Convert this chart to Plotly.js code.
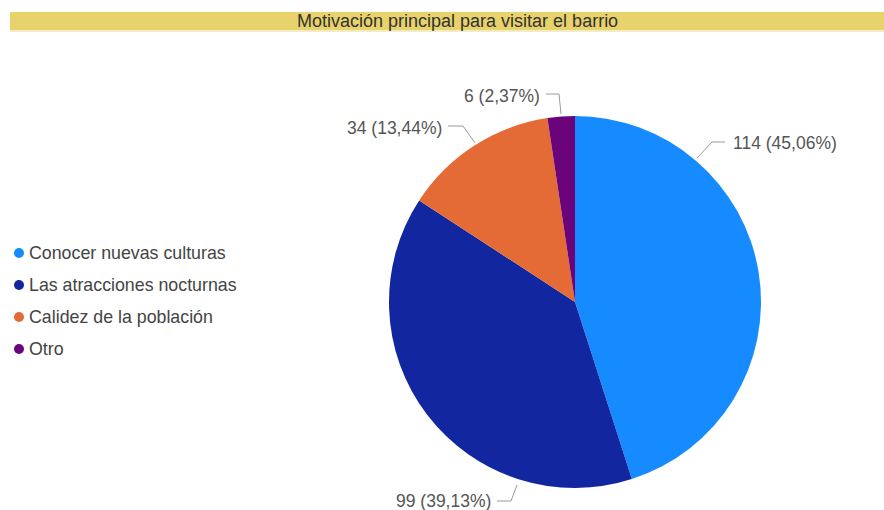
<!DOCTYPE html>
<html>
<head>
<meta charset="utf-8">
<script src="https://cdn.plot.ly/plotly-3.0.1.min.js"></script>
<style>html,body{margin:0;padding:0;background:#fff}#chart{width:884px;height:510px}</style>
</head>
<body>
<div id="chart"></div>
<script>
const categories = ["Conocer nuevas culturas", "Las atracciones nocturnas", "Calidez de la población", "Otro"];
const values = [114, 99, 34, 6];
const colors = ["#168BFF", "#1226A0", "#E46B36", "#6B047A"];
const titleText = "Motivación principal para visitar el barrio";

// label leader-line layout (pixel positions, style only)
const labelLayout = [
  {pts: [[697,158],[712,142],[725,142]], tx: 731, ty: 143, anchor: "left"},
  {pts: [[517,485],[511,501],[497,501]], tx: 493, ty: 501, anchor: "right"},
  {pts: [[475,143],[463,126],[448,126]], tx: 444, ty: 128, anchor: "right"},
  {pts: [[561,114],[559,94],[546,94]], tx: 542, ty: 96, anchor: "right"}
];

const W = 884, H = 510;
const px = x => x / W;
const py = y => 1 - y / H;
const total = values.reduce((a, b) => a + b, 0);
const fmt = v => v + " (" + (v / total * 100).toFixed(2).replace(".", ",") + "%)";
const FONT = "Liberation Sans, Arial, sans-serif";

const pie = {
  type: "pie",
  values: values,
  labels: categories,
  sort: false,
  direction: "clockwise",
  rotation: 0,
  textinfo: "none",
  hoverinfo: "label+value+percent",
  marker: {colors: colors, line: {width: 0}},
  showlegend: false,
  domain: {x: [px(389), px(761)], y: [py(488), py(116)]}
};

// legend drawn as scatter on hidden axes: y = item index
const legendMarkers = {
  type: "scatter",
  mode: "markers",
  x: categories.map(() => 0),
  y: categories.map((c, i) => i),
  marker: {color: colors, size: 10, symbol: "circle"},
  hoverinfo: "skip",
  showlegend: false,
  cliponaxis: false
};
const legendTexts = {
  type: "scatter",
  mode: "text",
  x: categories.map(() => 1.0),
  y: categories.map((c, i) => i + 0.06),
  text: categories,
  textposition: "middle right",
  textfont: {family: FONT, size: 17.8, color: "#444"},
  hoverinfo: "skip",
  showlegend: false,
  cliponaxis: false
};

const shapes = [
  {type: "rect", xref: "paper", yref: "paper", x0: px(10), x1: px(884), y0: py(30), y1: py(12),
   fillcolor: "#E7D26B", line: {width: 0}, layer: "below"},
  {type: "rect", xref: "paper", yref: "paper", x0: px(10), x1: px(884), y0: py(32), y1: py(30),
   fillcolor: "#F3EBC2", line: {width: 0}, layer: "below"}
];
const annotations = [
  {xref: "paper", yref: "paper", x: px(457), y: py(21), text: titleText, showarrow: false,
   xanchor: "center", yanchor: "middle", font: {family: FONT, size: 18, color: "#333"}}
];
labelLayout.forEach((L, i) => {
  const d = "M " + L.pts.map(p => px(p[0]) + "," + py(p[1])).join(" L ");
  shapes.push({type: "path", xref: "paper", yref: "paper", path: d, line: {color: "#9a9a9a", width: 1}});
  annotations.push({xref: "paper", yref: "paper", x: px(L.tx), y: py(L.ty), text: fmt(values[i]),
    showarrow: false, xanchor: L.anchor, yanchor: "middle",
    font: {family: FONT, size: 17.5, color: "#555"}});
});

// legend axis mapping: index 0 at 253px, spacing 32px
const y0px = 253, step = 32;
const layout = {
  width: W, height: H,
  margin: {l: 0, r: 0, t: 0, b: 0},
  paper_bgcolor: "#fff", plot_bgcolor: "rgba(0,0,0,0)",
  xaxis: {visible: false, range: [-19 / 10, (W - 19) / 10], domain: [0, 1], fixedrange: true},
  yaxis: {visible: false, range: [(H - y0px) / step, -y0px / step], domain: [0, 1], fixedrange: true},
  shapes: shapes,
  annotations: annotations,
  showlegend: false
};
Plotly.newPlot("chart", [pie, legendMarkers, legendTexts], layout, {displayModeBar: false, staticPlot: true});
</script>
</body>
</html>
